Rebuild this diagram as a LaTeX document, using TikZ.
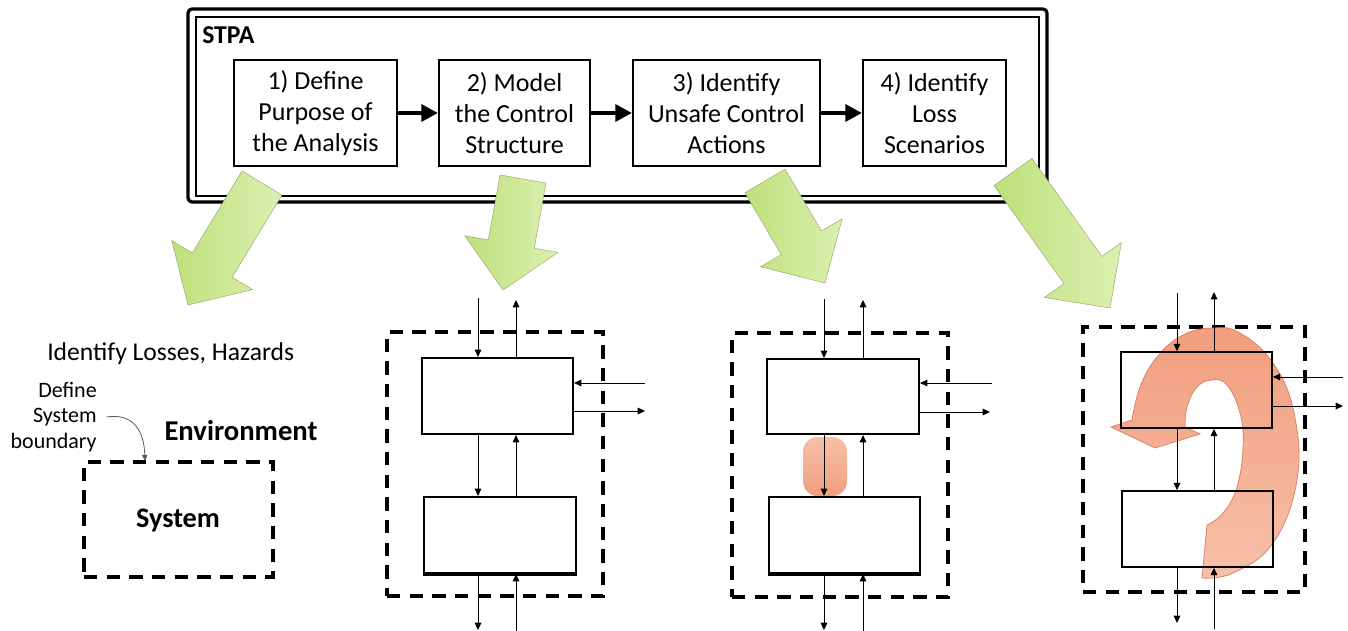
\documentclass[tikz,border=0pt]{standalone}
\usepackage{fontspec}
\setmainfont{Carlito}
\usetikzlibrary{arrows.meta,calc,fit}
\definecolor{gA}{RGB}{190,224,122}
\definecolor{gB}{RGB}{220,240,178}
\definecolor{gE}{RGB}{140,160,105}
\definecolor{oA}{RGB}{241,158,126}
\definecolor{oB}{RGB}{247,192,168}
\definecolor{oE}{RGB}{214,120,100}
\definecolor{lgray}{RGB}{90,90,90}
\newcommand{\greenarrow}[3]{%
  \coordinate (#1T) at #2;
  \coordinate (#1P) at #3;
  \coordinate (#1B) at ($(#1P)!35pt!(#1T)$);
  \path[garrow] ($(#1T)!17.5pt!90:(#1P)$) -- ($(#1B)!17.5pt!90:(#1P)$)
    -- ($(#1B)!35.5pt!90:(#1P)$) -- (#1P) -- ($(#1B)!35.5pt!-90:(#1P)$)
    -- ($(#1B)!17.5pt!-90:(#1P)$) -- ($(#1T)!17.5pt!-90:(#1P)$) -- cycle;
}
\tikzset{
  pbox/.style={draw, line width=1.5pt, minimum height=79.5pt, align=center,
    font=\fontsize{19.5}{23.3}\selectfont, inner sep=0pt},
  flow/.style={line width=3.6pt, -{Triangle[length=12.5pt,width=12.5pt]}},
  sa/.style={line width=0.75pt, -{Triangle[length=5.5pt,width=5pt]}},
  blk/.style={draw, line width=1.6pt, inner sep=0pt},
  dbox/.style={draw, line width=2.3pt, dash pattern=on 10pt off 7pt, inner sep=0pt},
  garrow/.style={left color=gA, right color=gB, draw=gE, line width=0.3pt},
  oarrow/.style={top color=oA, bottom color=oB, draw=oE, line width=0.5pt},
  pill/.style={top color=oB, bottom color=oA, draw=none, rounded corners=11pt, inner sep=0pt},
  thinarr/.style={draw=lgray, line width=0.6pt, -{Triangle[length=4.5pt,width=4pt]}},
}
\begin{document}
\begin{tikzpicture}[x=0.75pt,y=-0.75pt]
\useasboundingbox (0,0) rectangle (1348,631);
% ---------- STPA frame ----------
\node[draw, line width=2.4pt, rounded corners=3pt, inner sep=0pt, fit={(188,9)(1047,202)}] (outer) {};
\node[draw, line width=1.8pt, inner sep=0pt, fit={(196,17)(1039,196)}] (inner) {};
\node[anchor=west, font=\bfseries\fontsize{19.3}{22}\selectfont, inner sep=0pt] (stpa) at (202,35) {STPA};
\node[pbox, minimum width=122.25pt] (s1) at (315.5,113) {1) Define\\Purpose of\\the Analysis};
\node[pbox, minimum width=113.25pt] (s2) at (514.5,113) {2) Model\\the Control\\Structure};
\node[pbox, minimum width=140.25pt] (s3) at (726.5,113) {3) Identify\\Unsafe Control\\Actions};
\node[pbox, minimum width=107.25pt] (s4) at (934.5,113) {4) Identify\\Loss\\Scenarios};
\draw[flow] (s1) -- (s2);
\draw[flow] (s2) -- (s3);
\draw[flow] (s3) -- (s4);
% ---------- green arrows ----------
\greenarrow{ga}{(262,183)}{(188,305)}
\greenarrow{gb}{(523,179)}{(503,290)}
\greenarrow{gc}{(765,181)}{(825,283)}
\greenarrow{gd}{(1013,172)}{(1110,308)}
% ---------- step 1 ----------
\node[anchor=west, font=\fontsize{19.2}{23}\selectfont, inner sep=0pt] (lh) at (47,354) {Identify Losses, Hazards};
\node[anchor=east, align=right, font=\fontsize{16.5}{19}\selectfont, inner sep=0pt] (dsb) at (97,417) {Define\\System\\boundary};
\node[font=\bfseries\fontsize{21.5}{25}\selectfont, inner sep=0pt] (env) at (241,431) {Environment};
\node[dbox, fit={(84,462)(273,577)}] (sysb) {};
\node[font=\bfseries\fontsize{21.2}{25}\selectfont, inner sep=0pt] (sys) at (178,520) {System};
\coordinate (bt) at (145,461);
\draw[thinarr] ([xshift=7pt]dsb.east) .. controls (133,413) and (144,430) .. (bt);
% ---------- step 2 ----------
\node[dbox, fit={(387,332)(603,596)}] (d2) {};
\node[blk, fit={(422,358)(573,434)}] (t2) {};
\node[blk, fit={(424,497)(576,573)}] (b2) {};
\draw[line width=2.6pt] (b2.south west) -- (b2.south east);
\coordinate (x2a) at (478,298);
\coordinate (x2b) at (516,300);
\coordinate (x2c) at (478,630);
\coordinate (x2d) at (516,634);
\coordinate (r2a) at (645,383);
\coordinate (r2b) at (645,411);
\draw[sa] (x2a) -- (x2a |- t2.north);
\draw[sa] (x2b |- t2.north) -- (x2b);
\draw[sa] (x2a |- t2.south) -- (x2a |- b2.north);
\draw[sa] (x2b |- b2.north) -- (x2b |- t2.south);
\draw[sa] (x2a |- b2.south) -- (x2c);
\draw[sa] (x2d) -- (x2d |- b2.south);
\draw[sa] (r2a) -- (r2a -| t2.east);
\draw[sa] (r2b -| t2.east) -- (r2b);
% ---------- step 3 ----------
\node[dbox, fit={(732,333)(948,597)}] (d3) {};
\node[pill, fit={(803,437)(847,496)}] (u3) {};
\node[blk, fit={(767,359)(919,434)}] (t3) {};
\node[blk, fit={(769,497)(920,573)}] (b3) {};
\draw[line width=2.6pt] (b3.south west) -- (b3.south east);
\coordinate (x3a) at (824,299);
\coordinate (x3b) at (863,300);
\coordinate (x3c) at (824,630);
\coordinate (x3d) at (863,634);
\coordinate (r3a) at (992,383);
\coordinate (r3b) at (990,412);
\draw[sa] (x3a) -- (x3a |- t3.north);
\draw[sa] (x3b |- t3.north) -- (x3b);
\draw[sa] (x3a |- t3.south) -- (x3a |- b3.north);
\draw[sa] (x3b |- b3.north) -- (x3b |- t3.south);
\draw[sa] (x3a |- b3.south) -- (x3c);
\draw[sa] (x3d) -- (x3d |- b3.south);
\draw[sa] (r3a) -- (r3a -| t3.east);
\draw[sa] (r3b -| t3.east) -- (r3b);
% ---------- step 4 ----------
\node[dbox, fit={(1083,327)(1305,592)}] (d4) {};
\path[oarrow] plot[smooth, tension=0.7] coordinates {(1202,578) (1233,573) (1273,543) (1297,480) (1294,413) (1273,363) (1240,333) (1213,328) (1183,335) (1157,357) (1140,387) (1132,420)}
  -- (1111,427) -- (1155,448) -- (1200,434)
  -- plot[smooth, tension=0.7] coordinates {(1185,427) (1187,407) (1197,387) (1212,380) (1227,385) (1240,413) (1243,447) (1237,487) (1223,513) (1207,525)}
  -- cycle;
\node[blk, line width=1.3pt, fit={(1121,352)(1272,428)}] (t4) {};
\node[blk, line width=1.3pt, fit={(1122,491)(1273,567)}] (b4) {};
\coordinate (x4a) at (1177,293);
\coordinate (x4b) at (1214,292);
\coordinate (x4c) at (1177,623);
\coordinate (x4d) at (1214,629);
\coordinate (r4a) at (1343,377);
\coordinate (r4b) at (1343,406);
\draw[sa] (x4a) -- (x4a |- t4.north);
\draw[sa] (x4b |- t4.north) -- (x4b);
\draw[sa] (x4a |- t4.south) -- (x4a |- b4.north);
\draw[sa] (x4b |- b4.north) -- (x4b |- t4.south);
\draw[sa] (x4a |- b4.south) -- (x4c);
\draw[sa] (x4d) -- (x4d |- b4.south);
\draw[sa] (r4a) -- (r4a -| t4.east);
\draw[sa] (r4b -| t4.east) -- (r4b);
\end{tikzpicture}
\end{document}
